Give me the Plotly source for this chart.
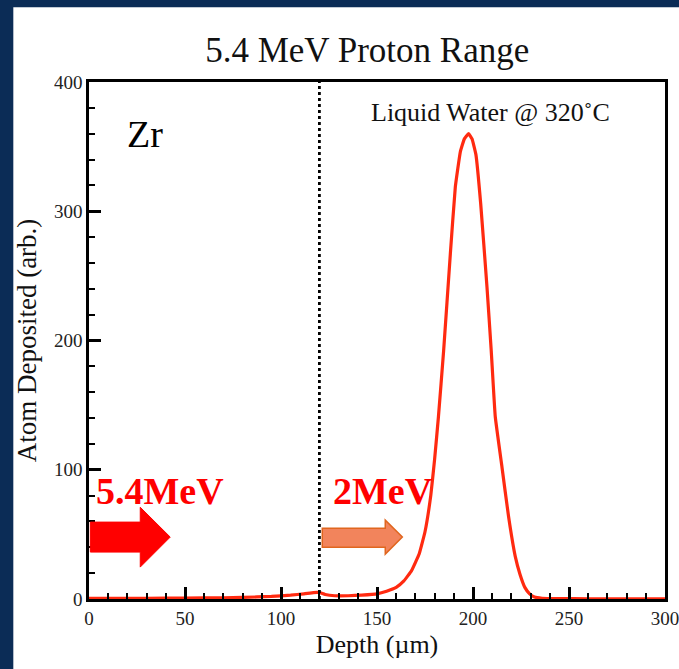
import plotly.graph_objects as go

# ---- data ----
depth_um = [0, 20, 40, 60, 80, 95, 105, 112, 117, 120, 123, 128, 135, 142, 150, 155,
            160, 164, 168, 172, 175, 178, 180, 182, 184.7, 188.2, 190.8, 193.4, 195.5,
            197.7, 199.5, 201.5, 204, 207.3, 209.5, 211.6, 215.1, 218.5, 222, 224.5,
            227, 229.5, 232, 236, 245, 260, 280, 300]
atoms_deposited = [0.5, 0.5, 0.6, 0.8, 1.2, 2, 3, 4, 5, 5, 3.5, 2.5, 2.5, 3, 4, 6,
                   9, 14, 22, 35, 52, 80, 108, 141, 192, 267, 319, 346, 356,
                   360, 356, 344, 306, 241, 192, 141, 102, 64, 33, 19,
                   9, 4, 1.5, 0.6, 0.3, 0.2, 0.2, 0.2]

interface_depth = 120
x_ticks = [0, 50, 100, 150, 200, 250, 300]
y_ticks = [0, 100, 200, 300, 400]

title_text = "5.4 MeV Proton Range"
x_title = "Depth (µm)"
y_title = "Atom Deposited (arb.)"
material_label = "Zr"
medium_label = "Liquid Water @ 320˚C"
beam_label = "5.4MeV"
exit_label = "2MeV"

SERIF = "Liberation Serif, Times New Roman, serif"
NAVY = "#0b2c56"

fig = go.Figure()

fig.add_trace(go.Scatter(
    x=depth_um, y=atoms_deposited, mode="lines",
    line=dict(color="#ff2a10", width=3.2, shape="spline", smoothing=0.3),
    showlegend=False, hoverinfo="x+y"))

# interface line
fig.add_trace(go.Scatter(
    x=[interface_depth, interface_depth], y=[0, 400], mode="lines",
    line=dict(color="black", width=2.8, dash="dot"),
    showlegend=False, hoverinfo="skip"))

shapes = [
    # white slide panel
    dict(type="rect", xref="paper", yref="paper", x0=-0.1314, x1=1.03,
         y0=-0.14, y1=1.1444, fillcolor="white", line=dict(width=0), layer="below"),
    # red incident-beam arrow
    dict(type="path", xref="x", yref="y",
         path="M 0.7 59.5 L 26.7 59.5 L 26.7 71 L 42.3 47.9 L 26.7 24.7 L 26.7 36.3 L 0.7 36.3 Z",
         fillcolor="#ff0000", line=dict(color="#ff0000", width=1)),
    # orange exit-beam arrow
    dict(type="path", xref="x", yref="y",
         path="M 121.5 54.8 L 154.3 54.8 L 154.3 61 L 163.2 47.9 L 154.3 34.7 L 154.3 40.1 L 121.5 40.1 Z",
         fillcolor="#f2845c", line=dict(color="#e0661f", width=1.5)),
]

annotations = [
    dict(x=29, y=360, xref="x", yref="y", text=material_label, showarrow=False,
         font=dict(family=SERIF, size=38, color="black")),
    dict(x=209, y=376.5, xref="x", yref="y", text=medium_label, showarrow=False,
         font=dict(family=SERIF, size=26, color="#111")),
    dict(x=37, y=83.4, xref="x", yref="y", text="<b>" + beam_label + "</b>", showarrow=False,
         font=dict(family=SERIF, size=38, color="#ff0000")),
    dict(x=153, y=83.4, xref="x", yref="y", text="<b>" + exit_label + "</b>", showarrow=False,
         font=dict(family=SERIF, size=38, color="#ff0000")),
]

fig.update_layout(
    width=679, height=669,
    margin=dict(l=89, r=14, t=82, b=70, autoexpand=False),
    paper_bgcolor=NAVY, plot_bgcolor="white",
    title=dict(text=title_text, x=0.483, xref="paper", y=1 - 50 / 669, yref="container",
               xanchor="center", yanchor="middle",
               font=dict(family=SERIF, size=35, color="#111")),
    shapes=shapes, annotations=annotations,
    xaxis=dict(range=[0, 300], tickvals=x_ticks, ticks="inside", ticklen=12, tickwidth=2.5,
               tickcolor="black", showline=True, linecolor="black", linewidth=2.5,
               mirror=True, showgrid=False, zeroline=False, ticklabeloverflow="allow",
               automargin=False,
               minor=dict(dtick=10, ticks="inside", ticklen=6, tickwidth=1.5, tickcolor="black"),
               tickfont=dict(family=SERIF, size=19, color="#222"),
               title=dict(text=x_title, font=dict(family=SERIF, size=26, color="#111"), standoff=8)),
    yaxis=dict(range=[0, 400], tickvals=y_ticks, ticks="inside", ticklen=12, tickwidth=2.5,
               tickcolor="black", showline=True, linecolor="black", linewidth=2.5,
               mirror=True, showgrid=False, zeroline=False, automargin=False,
               minor=dict(dtick=20, ticks="inside", ticklen=6, tickwidth=1.5, tickcolor="black"),
               tickfont=dict(family=SERIF, size=19, color="#222"),
               title=dict(text=y_title, font=dict(family=SERIF, size=27, color="#111"), standoff=10)),
)

fig.write_html(
    "out.html",
    config={"displayModeBar": False},
    post_script="document.body.style.margin='0';document.body.style.background='%s';"
                "document.body.style.overflow='hidden';" % NAVY,
)
